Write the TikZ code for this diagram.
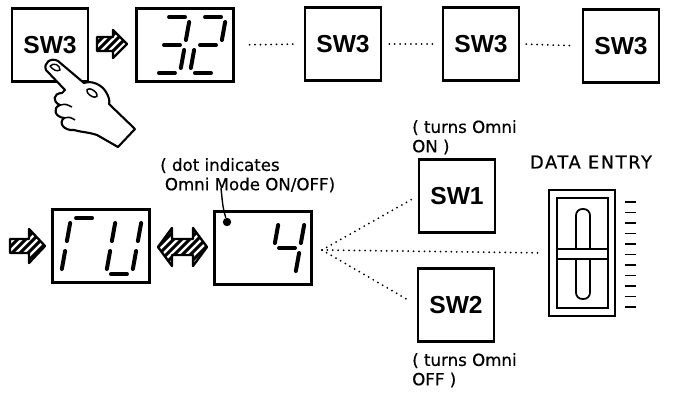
\documentclass[tikz,border=0pt]{standalone}
\usepackage{fontspec}
\setmainfont{DejaVu Sans}[FakeBold=0.6]
\newfontfamily\swfont{Liberation Sans}
\tikzset{segline/.style={line width=3.4pt,line cap=round},
  seg a/.style={insert path={(-8,-28) -- (8,-28)}},
  seg b/.style={insert path={(13,-23) -- (13,-5)}},
  seg c/.style={insert path={(13,5) -- (13,23)}},
  seg d/.style={insert path={(-8,28) -- (8,28)}},
  seg e/.style={insert path={(-13,5) -- (-13,23)}},
  seg f/.style={insert path={(-13,-23) -- (-13,-5)}},
  seg g/.style={insert path={(-8,0) -- (8,0)}}}
\newcommand\segdigit[3]{%
  \begin{scope}[shift={(#1,#2)},xslant=0.18]
    \foreach \s in {#3} \draw[segline,seg \s];
  \end{scope}}
\newcommand\hatcharrow[3]{%
  \begin{scope}
    \clip #1;
    \foreach \k in {-40,-32,...,40}
      \draw[line width=2.6pt] (#2+\k-25,#3+25) -- (#2+\k+25,#3-25);
  \end{scope}
  \draw[line width=2pt,line join=round] #1;}
\begin{document}
\begin{tikzpicture}[x=0.03cm,y=-0.03cm]
	\tikzset{swbox/.style = {draw,line width=2.2pt,fill=white,minimum width=2.28cm,minimum height=2.2cm,font=\swfont\bfseries\fontsize{21}{24}\selectfont}}
	\tikzset{dispbox/.style = {draw,line width=2.2pt,minimum width=2.9cm,minimum height=2.2cm}}
	\tikzset{dots/.style = {line width=1.7pt,line cap=round,dash pattern=on 0pt off 4.6pt}}
	\tikzset{note/.style = {font=\fontsize{14.2}{16.5}\selectfont,align=left,inner sep=0pt}}
	\useasboundingbox (0,0) rectangle (675,395);
	\node[swbox] (swa) at (50,45) {SW3};
	\node[dispbox] (dthree) at (185,45) {};
	\node[swbox] (swb) at (343,44) {SW3};
	\node[swbox] (swc) at (481,44) {SW3};
	\node[swbox] (swd) at (621,46) {SW3};
	\node[dispbox] (dru) at (101,246) {};
	\node[dispbox] (dfour) at (263,248) {};
	\node[swbox] (swone) at (457,196) {SW1};
	\node[swbox] (swtwo) at (456,305) {SW2};
	\node[draw,line width=1.8pt,minimum width=1.98cm,minimum height=3.8cm] (fader) at (582,253) {};
	\node[note,font=\fontsize{15.2}{17}\selectfont\addfontfeature{LetterSpace=9}] (delabel) at (591,162) {DATA ENTRY};
	\node[note,anchor=north west] (dotnote) at (160,158) {( dot indicates\\\hspace*{4pt}Omni Mode ON/OFF)};
	\node[note,anchor=north west] (onnote) at (412,120) {( turns Omni\\ON )};
	\node[note,anchor=north west] (offnote) at (412,353) {( turns Omni\\OFF )};
	\segdigit{172}{45}{a,b,g,c,d}
	\segdigit{208}{45}{a,b,g,e,d}
	\segdigit{79}{246}{a,f,e}
	\segdigit{124}{246}{f,b,e,c,d}
	\segdigit{287}{248}{f,g,b,c}
	\node[circle,fill,inner sep=0pt,minimum size=0.25cm] (omnidot) at (227,222) {};
	\coordinate (leadtop) at (221,188);
	\draw[line width=1.2pt] (omnidot) .. controls (223,208) .. (leadtop);
	\hatcharrow{(97,37) -- (113,37) -- (113,30) -- (127,44) -- (113,58) -- (113,51) -- (97,51) -- cycle}{112}{44}
	\hatcharrow{(10,239) -- (29,239) -- (29,229) -- (45,246) -- (29,263) -- (29,253) -- (10,253) -- cycle}{27}{246}
	\hatcharrow{(158,247) -- (172,228) -- (172,239) -- (193,239) -- (193,228) -- (207,247) -- (193,266) -- (193,255) -- (172,255) -- (172,266) -- cycle}{182}{247}
	\draw[dots,shorten <=0.45cm,shorten >=0.24cm] (dthree.east) -- (swb.west);
	\draw[dots,shorten <=0.21cm,shorten >=0.24cm] (swb.east) -- (swc.west);
	\draw[dots,shorten <=0.18cm,shorten >=0.24cm] (swc.east) -- (swd.west);
	\coordinate (fan) at (322,250);
	\draw[dots,shorten >=0.22cm] (fan) -- (swone.west);
	\draw[dots,shorten >=0.22cm] (fan) -- (swtwo.west);
	\draw[dots,shorten >=0.2cm] (fan) -- (fader.west);
	\draw[line width=1.5pt] (557,198) rectangle (608,308);
	\draw[line width=1.5pt,rounded corners=0.19cm] (576,209) rectangle (590,299);
	\draw[line width=1.5pt,fill=white] (557,249) rectangle (608,259);
	\foreach \t in {0,...,10}
		\draw[line width=1.4pt] (625,202+10.5*\t) -- (636,202+10.5*\t);
	\draw[line width=1.8pt,line join=round,fill=white] (46,70) .. controls (43,63) and (51,57) .. (58,61) -- (84,83) .. controls (92,80) and (102,85) .. (106,92) .. controls (109,97) and (110,101) .. (109,104) -- (135,129) -- (118,147) -- (97,135) .. controls (88,132) and (80,132) .. (74,130) .. controls (64,131) and (58,123) .. (64,118) .. controls (55,117) and (52,108) .. (60,105) .. controls (52,102) and (53,93) .. (62,93) -- (65,90) -- cycle;
	\draw[line width=1.2pt] (50,66) .. controls (54,62) and (60,65) .. (60,70) .. controls (57,72) and (53,70) .. (50,66);
	\draw[line width=1.3pt,rotate around={-35:(92,93)}] (92,93) ellipse [x radius=0.18cm,y radius=0.09cm];
	\draw[line width=1.3pt] (60,105) .. controls (66,104) .. (72,107);
	\draw[line width=1.3pt] (64,118) .. controls (70,117) .. (75,120);
\end{tikzpicture}
\end{document}
